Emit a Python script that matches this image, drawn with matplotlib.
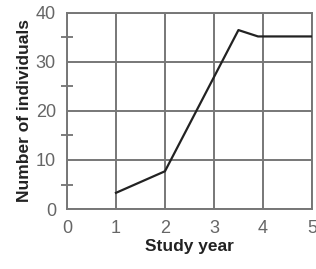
import matplotlib
matplotlib.use('Agg')
import matplotlib.pyplot as plt

# data
years = [1, 2, 3.5, 3.9, 5]
individuals = [3.3, 7.7, 36.5, 35.2, 35.2]
x_ticks = [0, 1, 2, 3, 4, 5]
y_ticks = [0, 10, 20, 30, 40]
y_minor = [5, 15, 25, 35]

plt.rcParams['font.family'] = ['Liberation Sans', 'DejaVu Sans']

fig = plt.figure(figsize=(3.16, 2.69), dpi=100)
ax = fig.add_axes([0.212, 0.223, 0.775, 0.729])

ax.plot(years, individuals, color='#222222', lw=1.6, zorder=3)

ax.set_xlim(0, 5)
ax.set_ylim(0, 40)
ax.set_xticks(x_ticks)
ax.set_yticks(y_ticks)
ax.set_yticks(y_minor, minor=True)
ax.grid(True, which='major', color='#777777', lw=1.4)
ax.tick_params(which='major', length=0, pad=8, labelsize=13, labelcolor='#666666')
ax.tick_params(axis='y', which='minor', direction='inout', length=9, width=1.2, color='#666666')
for s in ax.spines.values():
    s.set_color('#777777')
    s.set_linewidth(1.4)

ax.set_xlabel('Study year', fontsize=12.5, fontweight='bold', color='#222222', labelpad=1)
ax.set_ylabel('Number of individuals', fontsize=12.5, fontweight='bold', color='#222222', labelpad=3)

plt.savefig('out.png', dpi=100)
